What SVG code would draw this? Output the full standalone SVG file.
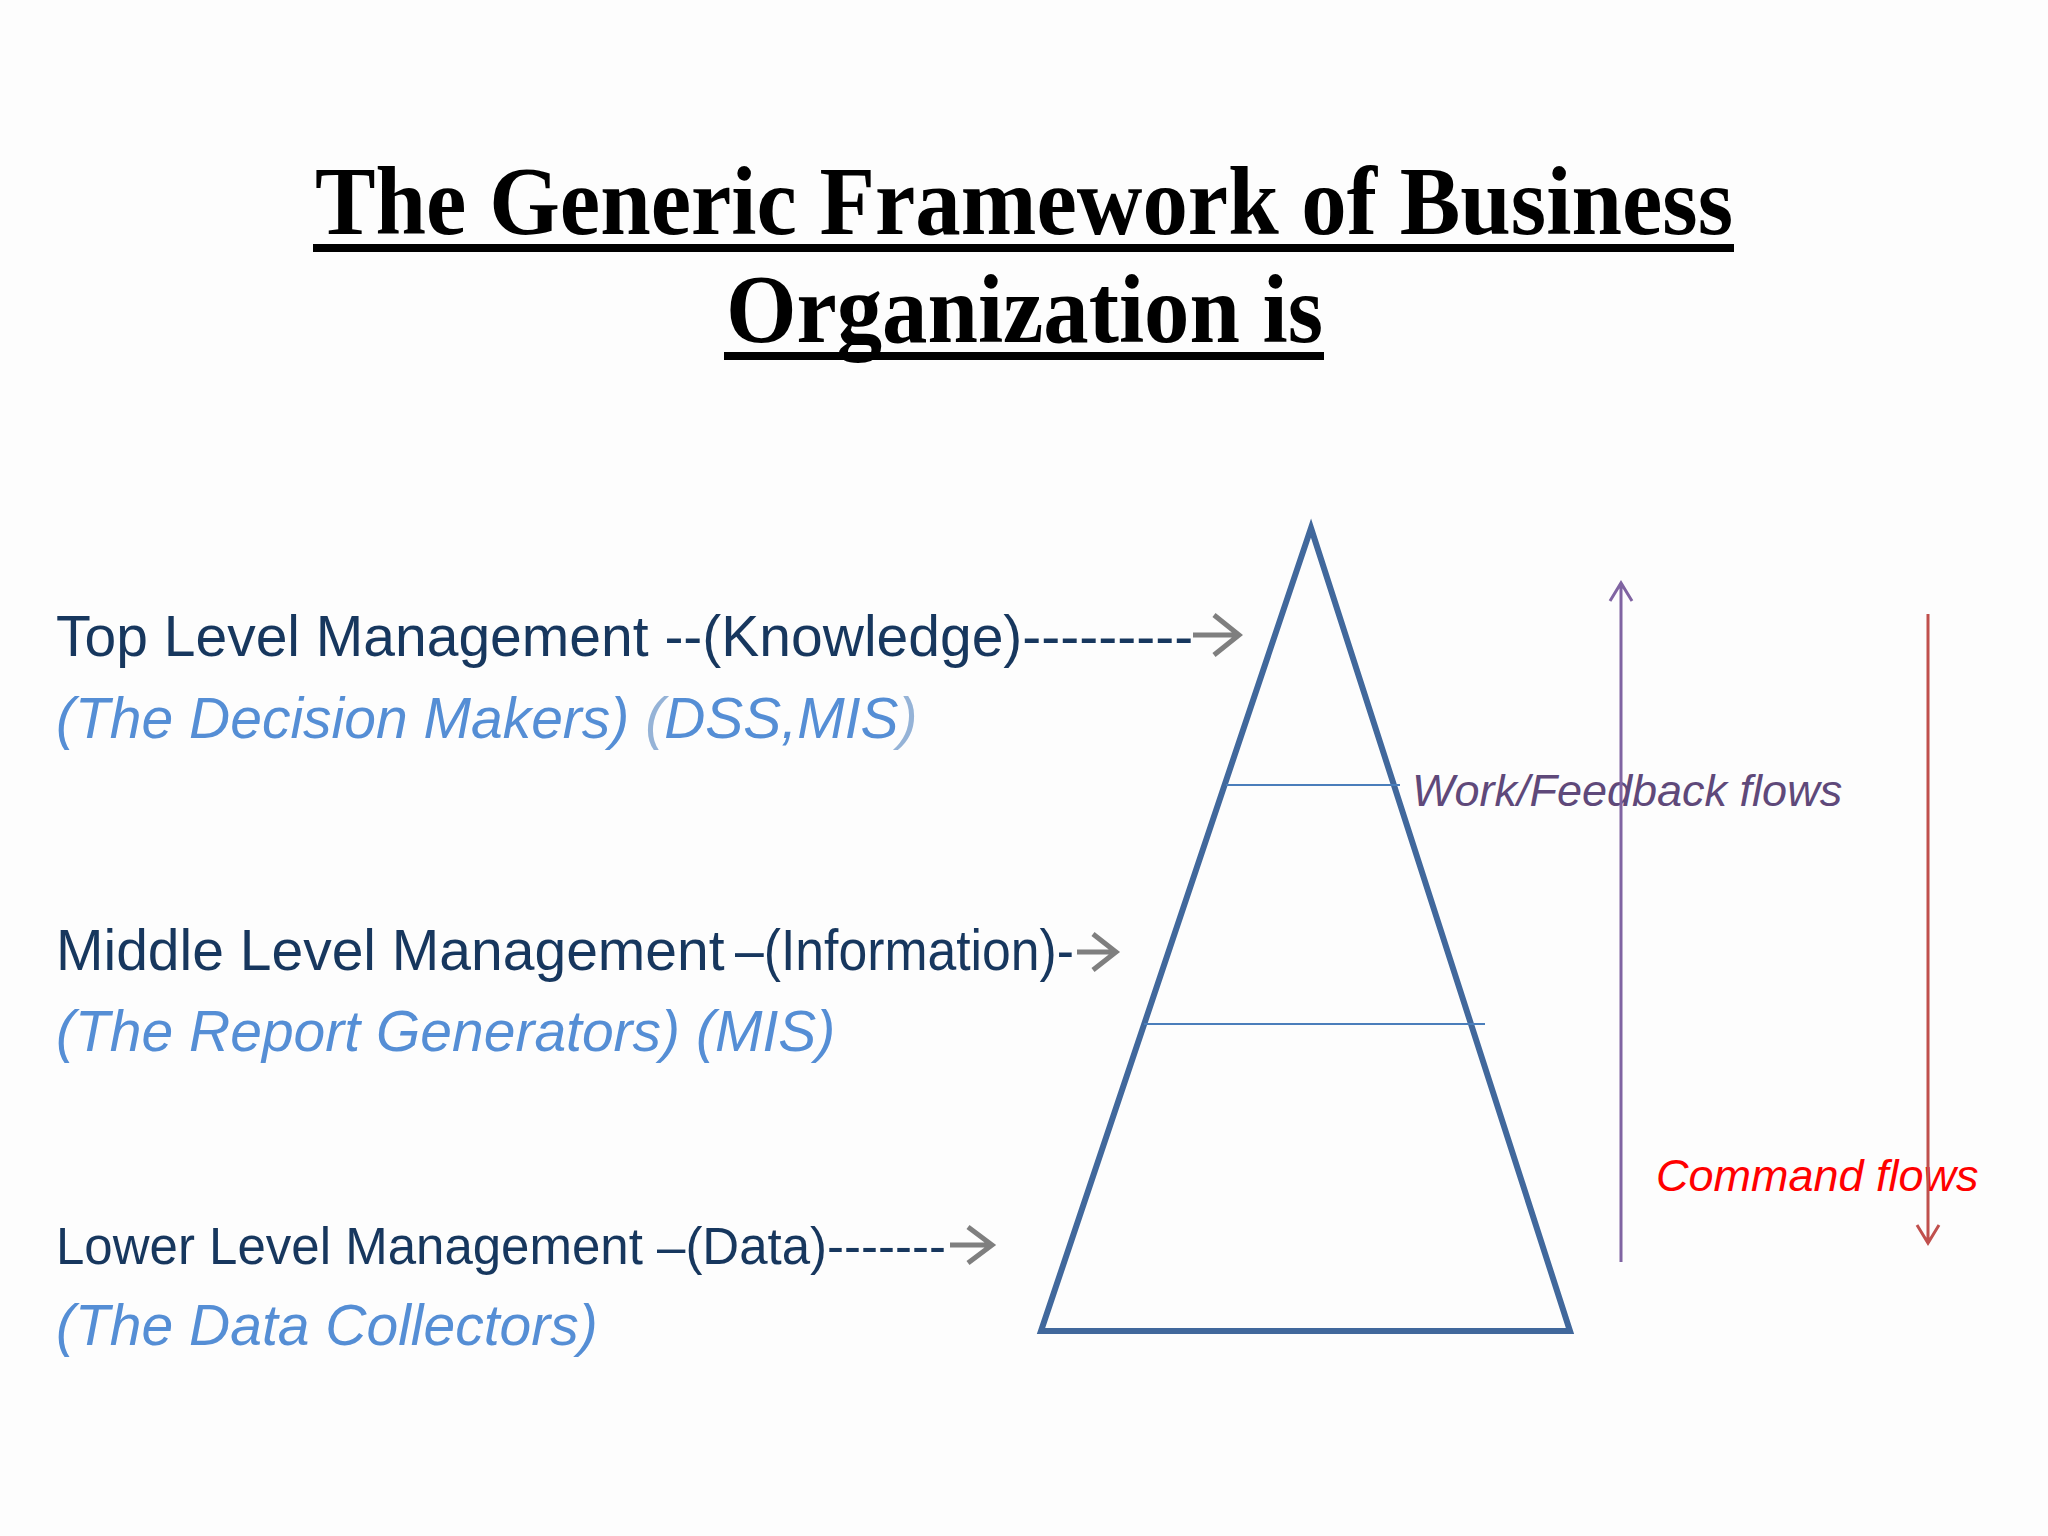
<svg xmlns="http://www.w3.org/2000/svg" width="2048" height="1536" viewBox="0 0 2048 1536">
  <style>
    .title { font-family: "Liberation Serif", "Times New Roman", serif; font-weight: bold; font-size: 98px; fill: #000; }
    .lbl { font-family: "Liberation Sans", Arial, sans-serif; font-size: 57px; fill: #17375E; }
    .sub { font-family: "Liberation Sans", Arial, sans-serif; font-size: 57px; font-style: italic; fill: #558ED5; }
    .light { fill: #95B3D7; }
    .garrow { fill: none; stroke: #7F7F7F; stroke-width: 5; stroke-linecap: butt; stroke-linejoin: miter; }
    .tri { fill: none; stroke: #41689C; stroke-width: 6; stroke-linejoin: miter; }
    .div { stroke: #4A7EBB; stroke-width: 2; }
    .flow { font-family: "Liberation Sans", Arial, sans-serif; font-size: 45px; font-style: italic; }
  </style>
  <rect x="0" y="0" width="2048" height="1536" fill="#FDFDFD"/>

  <g id="title">
    <text class="title" x="315" y="234" textLength="1418" lengthAdjust="spacingAndGlyphs">The Generic Framework of Business</text>
    <rect x="313" y="244" width="1421" height="8" fill="#000"/>
    <text class="title" x="726" y="342" textLength="597" lengthAdjust="spacingAndGlyphs">Organization is</text>
    <rect x="724" y="352" width="600" height="8" fill="#000"/>
  </g>

  <g id="top-level">
    <text class="lbl" x="56" y="656">Top Level Management --(Knowledge)---------</text>
    <text class="sub" x="56" y="738">(The Decision Makers) <tspan class="light">(</tspan>DSS,MIS<tspan class="light">)</tspan></text>
  </g>

  <g id="middle-level">
    <text class="lbl" x="56" y="970">Middle Level Management</text>
    <text class="lbl" x="735" y="970" textLength="339" lengthAdjust="spacingAndGlyphs">–(Information)-</text>
    <text class="sub" x="56" y="1051">(The Report Generators) (MIS)</text>
  </g>

  <g id="lower-level">
    <text class="lbl" x="56" y="1264" style="font-size:51px">Lower Level Management –(Data)-------</text>
    <text class="sub" x="56" y="1345">(The Data Collectors)</text>
  </g>

  <g id="pyramid">
    <polygon class="tri" points="1311,528 1570,1331 1041,1331"/>
    <line class="div" x1="1226" y1="785" x2="1400" y2="785"/>
    <line class="div" x1="1144" y1="1024" x2="1485" y2="1024"/>
  </g>

  <g id="flow-labels">
    <text class="flow" x="1412" y="806" fill="#5F497A">Work/Feedback flows</text>
    <text class="flow" x="1656" y="1191" fill="#FF0000">Command flows</text>
  </g>

  <g id="connectors">
    <path class="garrow" d="M1193,635 H1238 M1214,615 L1239,635 L1214,655"/>
    <path class="garrow" d="M1077,952 H1115 M1093,934 L1116,952 L1093,970"/>
    <path class="garrow" d="M950,1245 H991 M968,1227 L992,1245 L968,1263"/>
    <path d="M1621,1262 V583 M1610,601 L1621,583 L1632,601" fill="none" stroke="#8064A2" stroke-width="3"/>
    <path d="M1928,614 V1243 M1917,1225 L1928,1243 L1939,1225" fill="none" stroke="#C0504D" stroke-width="3"/>
  </g>
</svg>
